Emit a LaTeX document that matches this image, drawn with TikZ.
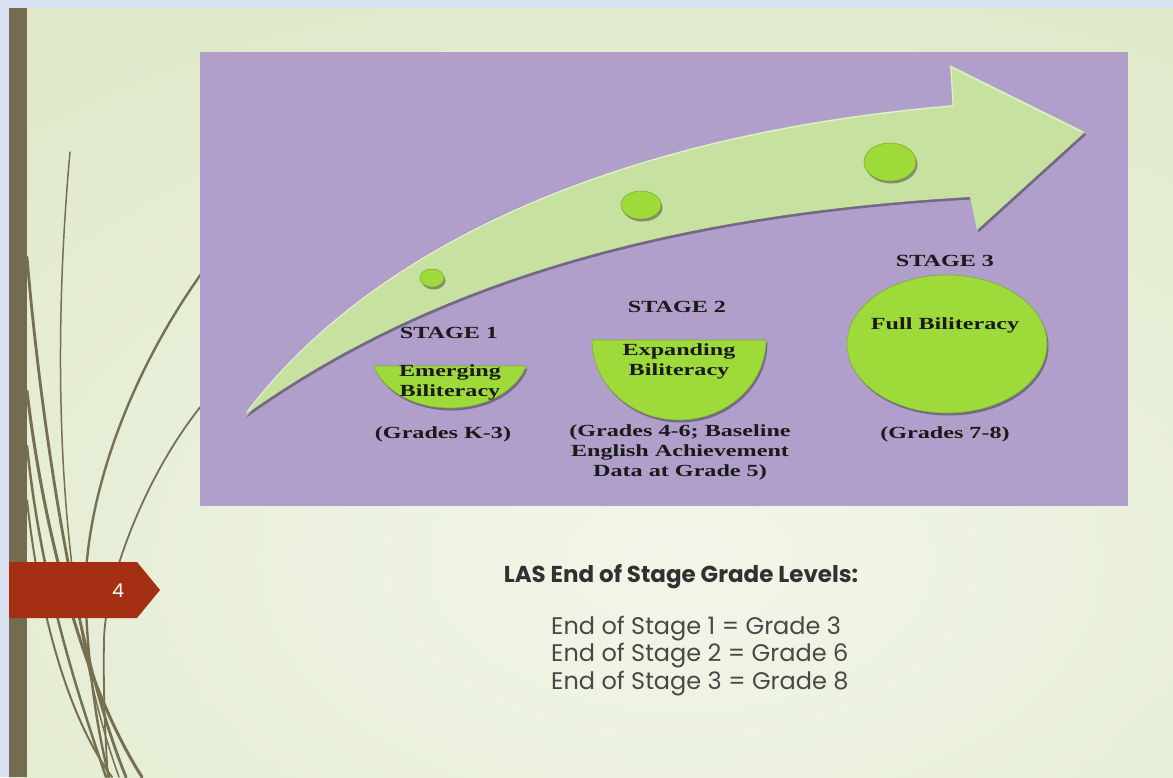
\documentclass[tikz,border=0pt]{standalone}
\usepackage{fontspec}
\usetikzlibrary{shadows}
\newfontfamily\gar[FakeStretch=1.42]{Liberation Serif}
\newfontfamily\gothic{Poppins}
\definecolor{bluebg}{HTML}{D9E2F2}
\definecolor{slidebg}{HTML}{E0E9CA}
\definecolor{slidelight}{HTML}{F2F6EA}
\definecolor{barcol}{HTML}{746C50}
\definecolor{grass}{HTML}{776F51}
\definecolor{tabred}{HTML}{A42F12}
\definecolor{purp}{HTML}{B09FCA}
\definecolor{arrowgreen}{HTML}{C6E1A0}
\definecolor{arrowrim}{HTML}{E6F2D6}
\definecolor{dotgreen}{HTML}{9FDA3B}
\definecolor{dotedge}{HTML}{7FAE2C}
\definecolor{txt}{HTML}{1A1A1A}
\tikzset{
  grassline/.style={draw=grass, line cap=round},
  gshadow/.style={drop shadow={shadow xshift=1.5pt, shadow yshift=-2.5pt, opacity=0.45, fill=black!75!purp}},
  blob/.style={fill=dotgreen, draw=dotedge, line width=0.6pt, gshadow},
  serlabel/.style={font=\gar\bfseries\fontsize{17}{20}\selectfont, text=txt, align=center, inner sep=0pt},
  gothlabel/.style={font=\gothic\fontsize{24}{27.5}\selectfont, text=txt!80, inner sep=0pt},
}
\begin{document}
\begin{tikzpicture}[x=1pt,y=-1pt]
\useasboundingbox (0,0) rectangle (1173,777);
% page background
\fill[bluebg] (0,0) rectangle (1173,777);
\begin{scope}
\clip (9,8) rectangle (1173,777);
\fill[slidebg] (9,8) rectangle (1173,777);
\shade[inner color=slidelight, outer color=slidebg] (-320,-40) rectangle (1680,1160);
% grass curves
\draw[grassline, line width=1.5pt] (70,152) .. controls (52,350) and (55,600) .. (119,777);
\draw[grassline, line width=2.8pt] (27,257) .. controls (38,390) and (70,640) .. (126,777);
\draw[grassline, line width=3pt] (27,391) .. controls (42,520) and (80,680) .. (142,777);
\draw[grassline, line width=2.5pt] (27,446) .. controls (42,590) and (80,700) .. (106,777);
\draw[grassline, line width=2pt] (27,500) .. controls (40,620) and (70,720) .. (112,777);
\draw[grassline, line width=2.4pt] (215,255) .. controls (120,380) and (80,520) .. (86,610) .. controls (90,690) and (100,740) .. (109,777);
\draw[grassline, line width=1.8pt] (215,390) .. controls (150,460) and (105,580) .. (104,640) .. controls (103,700) and (106,750) .. (108,777);
\end{scope}
% left bar
\fill[barcol] (9,8) rectangle (27,777);
% slide number tab
\fill[tabred] (9,562) -- (137,562) -- (160,590) -- (137,618) -- (9,618) -- cycle;
\node[font=\gothic\fontsize{19}{20}\selectfont, text=white, inner sep=0pt] (num) at (118,591) {4};
% purple panel
\fill[purp] (200,52) rectangle (1128,506);
% arrow
\fill[arrowgreen, gshadow] (245,415) .. controls (365,255) and (600,135) .. (953,105)
   -- (950,65) -- (1085,132) -- (977,230) -- (970,197)
   .. controls (650,215) and (420,290) .. (245,415) -- cycle;
\draw[arrowrim, line width=1pt] (247,412) .. controls (365,256) and (600,136) .. (953,106)
   -- (951,67) -- (1082,132);
% dots on the arrow
\path[blob] (432,278) ellipse [x radius=12, y radius=9];
\path[blob] (641,205) ellipse [x radius=20, y radius=14];
\path[blob] (890,162) ellipse [x radius=26, y radius=19];
% stage shapes
\path[blob] (374,366) -- (526,366) arc[start angle=14.48, end angle=165.52, x radius=78.6, y radius=56] -- cycle;
\path[blob] (592,340) -- (766,340) arc[start angle=0, end angle=180, x radius=87, y radius=80] -- cycle;
\path[blob] (947,344) ellipse [x radius=100, y radius=69];
% labels
\node[serlabel] (st1) at (449,333) {STAGE 1};
\node[serlabel] (st2) at (677,307) {STAGE 2};
\node[serlabel] (st3) at (945,261) {STAGE 3};
\node[serlabel] (b1) at (450,382) {Emerging\\Biliteracy};
\node[serlabel] (b2) at (679,361) {Expanding\\Biliteracy};
\node[serlabel] (b3) at (945,325) {Full Biliteracy};
\node[serlabel] (g1) at (443,434) {(Grades K-3)};
\node[serlabel] (g2) at (680,452) {(Grades 4-6; Baseline\\English Achievement\\Data at Grade 5)};
\node[serlabel] (g3) at (945,434) {(Grades 7-8)};
% bottom text
\node[font=\gothic\bfseries\fontsize{23}{26}\selectfont, text=txt!90, inner sep=0pt] (title) at (681,577) {LAS End of Stage Grade Levels:};
\node[gothlabel, anchor=west, align=left] (levels) at (551,656) {End of Stage 1 = Grade 3\\End of Stage 2 = Grade 6\\End of Stage 3 = Grade 8};
\end{tikzpicture}
\end{document}
